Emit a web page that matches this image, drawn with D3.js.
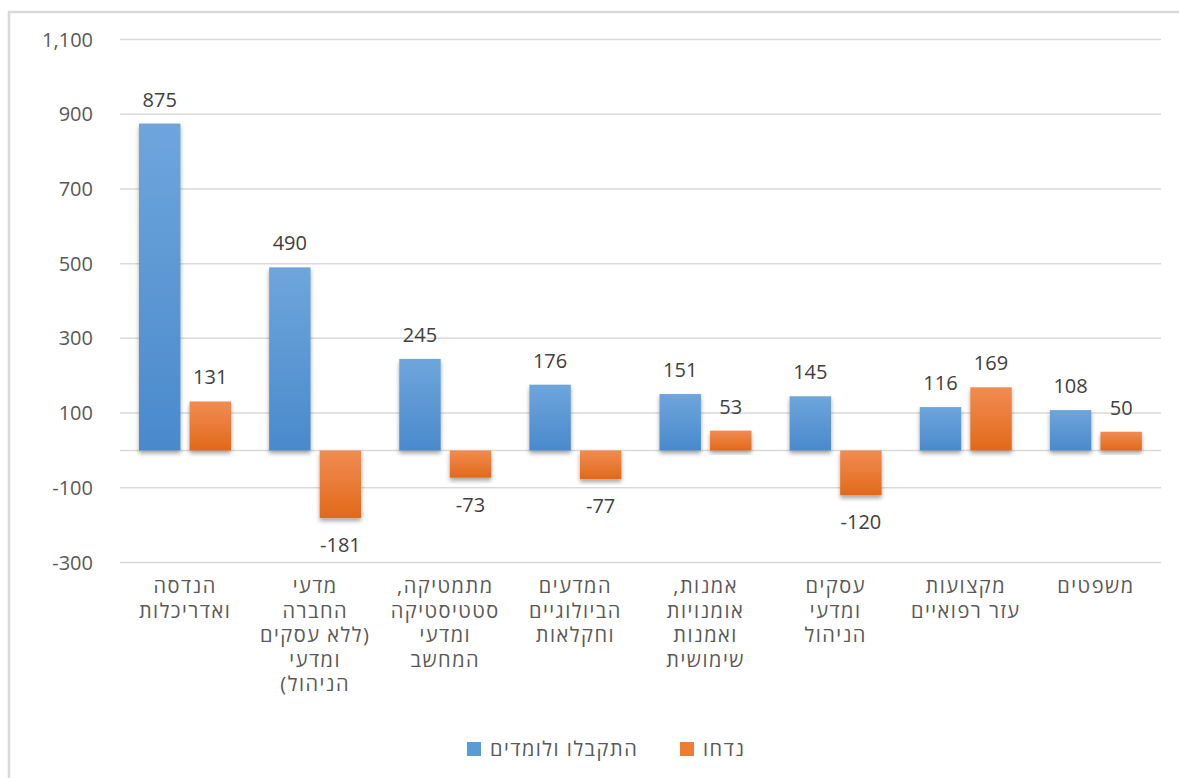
<!DOCTYPE html>
<html>
<head>
<meta charset="utf-8">
<script src="https://cdn.jsdelivr.net/npm/d3@7"></script>
<style>
  body { margin: 0; background: #ffffff; }
  svg { font-family: "Segoe UI", "Open Sans", "Liberation Sans", "DejaVu Sans", sans-serif; }
  .heb { letter-spacing: 1.5px; }
</style>
</head>
<body>
<svg id="chart"></svg>
<script>
// labels are split into lines the way the reference wraps them
var categories = [
    ["הנדסה", "ואדריכלות"],
    ["מדעי", "החברה", "(ללא עסקים", "ומדעי", "הניהול)"],
    ["מתמטיקה,", "סטטיסטיקה", "ומדעי", "המחשב"],
    ["המדעים", "הביולוגיים", "וחקלאות"],
    ["אמנות,", "אומנויות", "ואמנות", "שימושית"],
    ["עסקים", "ומדעי", "הניהול"],
    ["מקצועות", "עזר רפואיים"],
    ["משפטים"]
];
var accepted = [875, 490, 245, 176, 151, 145, 116, 108];
var rejected = [131, -181, -73, -77, 53, -120, 169, 50];
var seriesNames = ["התקבלו ולומדים", "נדחו"];
var yTicks = [-300, -100, 100, 300, 500, 700, 900, 1100];

const svgWidth = 1179;
const svgHeight = 778;
const plotLeft = 120, plotRight = 1161, plotTop = 39.5, plotBottom = 562.5;

var fmt = d3.formatLocale({decimal: ".", thousands: ",", grouping: [3], currency: ["", ""], minus: "-"}).format(",");

// the reference puts edge punctuation where a left-to-right layout would put it;
// the browser lays these lines out right-to-left, so move the marks to match
function edgeMarks(line) {
    if (line.endsWith(",")) line = "," + line.slice(0, -1);
    if (line.startsWith("(")) line = line.slice(1) + ")";
    else if (line.endsWith(")")) line = "(" + line.slice(0, -1);
    return line;
}

var svg = d3.select("#chart")
    .attr("width", svgWidth)
    .attr("height", svgHeight);

var defs = svg.append("defs");
function addGradient(id, top, bottom) {
    var g = defs.append("linearGradient").attr("id", id)
        .attr("x1", 0).attr("y1", 0).attr("x2", 0).attr("y2", 1);
    g.append("stop").attr("offset", "0%").attr("stop-color", top);
    g.append("stop").attr("offset", "100%").attr("stop-color", bottom);
}
addGradient("gradBlue", "#6ea6dc", "#4a89cc");
addGradient("gradOrange", "#f08c52", "#e2691a");

var shadow = defs.append("filter").attr("id", "shadow")
    .attr("x", "-20%").attr("y", "-10%").attr("width", "140%").attr("height", "130%");
shadow.append("feDropShadow")
    .attr("dx", 0).attr("dy", 3).attr("stdDeviation", 2)
    .attr("flood-color", "#000").attr("flood-opacity", 0.35);

// chart frame
svg.append("rect")
    .attr("x", 9).attr("y", 12)
    .attr("width", 1300).attr("height", 900)
    .attr("fill", "none")
    .attr("stroke", "#d9d9d9")
    .attr("stroke-width", 2.5);

var y = d3.scaleLinear().domain([-300, 1100]).range([plotBottom, plotTop]);
var x0 = d3.scaleBand().domain(d3.range(categories.length)).range([plotLeft, plotRight]);
var x1 = d3.scaleBand().domain([0, 1]).range([19, 111]).paddingInner(0.18);

// gridlines
svg.append("g").selectAll("line")
    .data(yTicks.concat([0]))
    .enter()
    .append("line")
    .attr("x1", plotLeft).attr("x2", plotRight)
    .attr("y1", d => y(d)).attr("y2", d => y(d))
    .attr("stroke", "#d9d9d9")
    .attr("stroke-width", 1.5);

// y tick labels
svg.append("g").selectAll("text")
    .data(yTicks)
    .enter()
    .append("text")
    .attr("x", 93)
    .attr("y", d => y(d))
    .attr("dy", "0.35em")
    .attr("text-anchor", "end")
    .attr("font-size", 20)
    .attr("fill", "#595959")
    .text(d => fmt(d));

var rows = categories.map((c, i) => [accepted[i], rejected[i]]);
var fills = ["url(#gradBlue)", "url(#gradOrange)"];

var groups = svg.append("g").selectAll("g")
    .data(rows)
    .enter()
    .append("g")
    .attr("transform", (d, i) => "translate(" + x0(i) + ",0)");

groups.selectAll("rect")
    .data(d => d)
    .enter()
    .append("rect")
    .attr("x", (d, j) => x1(j))
    .attr("width", x1.bandwidth())
    .attr("y", d => y(Math.max(0, d)))
    .attr("height", d => Math.abs(y(d) - y(0)))
    .attr("fill", (d, j) => fills[j])
    .attr("filter", "url(#shadow)");

groups.selectAll("text.value")
    .data(d => d)
    .enter()
    .append("text")
    .attr("class", "value")
    .attr("x", (d, j) => x1(j) + x1.bandwidth() / 2)
    .attr("y", d => d >= 0 ? y(d) - 17 : y(d) + 34)
    .attr("text-anchor", "middle")
    .attr("font-size", 20)
    .attr("fill", "#404040")
    .text(d => fmt(d));

// category labels, wrapped into tspans
var catLabels = svg.append("g").selectAll("text")
    .data(categories)
    .enter()
    .append("text")
    .attr("class", "heb")
    .attr("x", (d, i) => x0(i) + x0.bandwidth() / 2)
    .attr("y", 593)
    .attr("text-anchor", "middle")
    .attr("font-size", 20)
    .attr("fill", "#595959");

catLabels.selectAll("tspan")
    .data(d => d)
    .enter()
    .append("tspan")
    .attr("x", function() { return this.parentNode.getAttribute("x"); })
    .attr("dy", (d, k) => k === 0 ? 0 : 24.5)
    .text(d => edgeMarks(d));

// legend
var legendColors = ["#5b9bd5", "#ed7d31"];
var legendX = [467, 680];
var legend = svg.append("g").selectAll("g")
    .data(seriesNames)
    .enter()
    .append("g")
    .attr("transform", (d, i) => "translate(" + legendX[i] + ",749)");

legend.append("rect")
    .attr("x", 0).attr("y", -7)
    .attr("width", 14).attr("height", 14)
    .attr("fill", (d, i) => legendColors[i]);

legend.append("text")
    .attr("class", "heb")
    .attr("x", 23)
    .attr("dy", "0.35em")
    .attr("font-size", 20)
    .attr("fill", "#595959")
    .text(d => d);
</script>
</body>
</html>
